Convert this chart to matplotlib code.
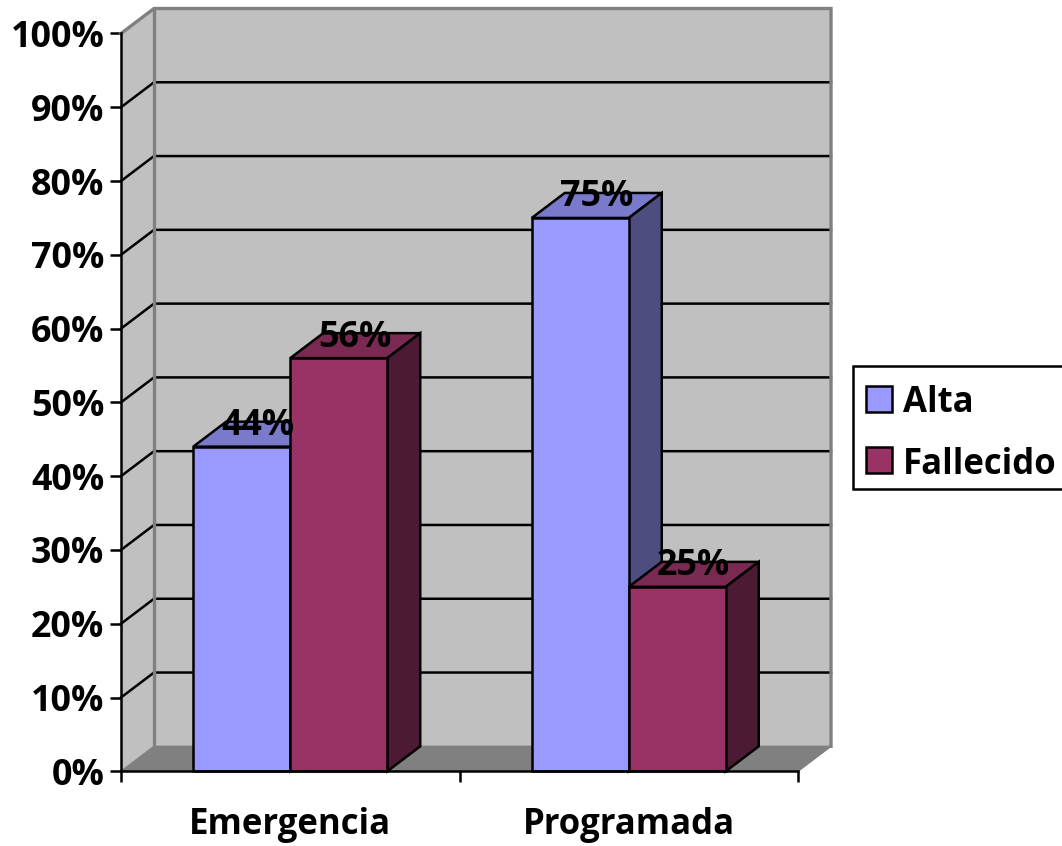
import matplotlib
matplotlib.use("Agg")
import matplotlib.pyplot as plt
from matplotlib.patches import Polygon, Rectangle

# Share of outcomes per admission type
categories = ["Emergencia", "Programada"]
series_names = ["Alta", "Fallecido"]
alta = [44, 75]
fallecido = [56, 25]
y_ticks = list(range(0, 101, 10))

face = ["#9999FF", "#993366"]
top = ["#7A7ACC", "#7A2952"]
side = ["#4D4D80", "#4D1A33"]

W, H = 1062, 846
plt.rcParams["font.family"] = ["Open Sans", "DejaVu Sans"]
plt.rcParams["font.weight"] = "bold"

fig = plt.figure(figsize=(W / 100, H / 100), dpi=100, facecolor="white")
ax = fig.add_axes([121 / W, (H - 771.3) / H, 677 / W, 737.8 / H])
ax.set_xlim(0, 2)
ax.set_ylim(0, 100)
ax.patch.set_alpha(0)

# Depth of the oblique projection, in data units
dx = 33 / 338.5
dy = 25 / 7.38
lw = 1.8
bar_w = 97 / 338.5
label_size = 25
number_size = 25.8

def poly(pts, fc, ec="none", z=1, elw=0):
    ax.add_patch(Polygon(pts, closed=True, facecolor=fc, edgecolor=ec, linewidth=elw,
                         zorder=z, clip_on=False, joinstyle="miter"))

# Walls and floor
poly([(dx, dy), (2 + dx, dy), (2 + dx, 100 + dy), (dx, 100 + dy)], "#C0C0C0", z=1)
poly([(0, 0), (dx, dy), (dx, 100 + dy), (0, 100)], "#C0C0C0", z=1)
poly([(0, 0), (dx, dy), (2 + dx, dy), (2, 0)], "#808080", z=1)

# Gridlines run across the side wall and the back wall
for v in y_ticks[1:-1]:
    ax.plot([0, dx, 2 + dx], [v, v + dy, v + dy], color="black", lw=lw, zorder=2, clip_on=False,
            solid_joinstyle="miter")

# Grey outline of the walls
ax.plot([0, dx, 2 + dx, 2 + dx], [100, 100 + dy, 100 + dy, dy], color="#808080", lw=2.4,
        zorder=2, clip_on=False, solid_joinstyle="miter")
ax.plot([dx, dx], [dy, 100 + dy], color="#808080", lw=2.4, zorder=2, clip_on=False)
ax.plot([0, dx, 2 + dx, 2], [0, dy, dy, 0], color="#808080", lw=1.0, zorder=2, clip_on=False)

# Bars, each with a front face, a top face and a side face
for c, centre in enumerate([0.5, 1.5]):
    for s, values in enumerate([alta, fallecido]):
        v = values[c]
        x0 = centre - bar_w + s * bar_w
        x1 = x0 + bar_w
        z = 3 + c * 2 + s * 0.5
        ax.bar(x0, v, width=bar_w, align="edge", color=face[s], edgecolor="black",
               linewidth=lw, zorder=z + 0.2, clip_on=False)
        poly([(x0, v), (x0 + dx, v + dy), (x1 + dx, v + dy), (x1, v)], top[s], "black", z, lw)
        poly([(x1, 0), (x1 + dx, dy), (x1 + dx, v + dy), (x1, v)], side[s], "black", z, lw)

# Value labels sit on the top face of each bar
for c, centre in enumerate([0.5, 1.5]):
    for s, values in enumerate([alta, fallecido]):
        v = values[c]
        xm = centre - bar_w / 2 + s * bar_w + dx / 2
        ax.text(xm, v + dy, f"{v}%", ha="center", va="center_baseline", fontsize=number_size,
                color="black", zorder=10, clip_on=False)

# Axes lines and ticks
for name in ("top", "right"):
    ax.spines[name].set_visible(False)
for name in ("left", "bottom"):
    ax.spines[name].set_linewidth(lw)
    ax.spines[name].set_zorder(9)
ax.set_yticks(y_ticks)
ax.set_yticklabels([f"{v}%" for v in y_ticks], fontsize=number_size)
ax.set_xticks([0, 1, 2])
ax.set_xticklabels([])
ax.set_xticks([0.5, 1.5], minor=True)
ax.set_xticklabels(categories, minor=True, fontsize=label_size)
ax.tick_params(axis="y", length=8, width=lw, pad=4)
ax.tick_params(axis="x", which="major", length=8, width=lw)
ax.tick_params(axis="x", which="minor", length=0, pad=26)

# Legend box, running off the right-hand edge of the figure
def to_fig(px, py):
    return px / W, (H - py) / H

fx, fy = to_fig(853, 489)
fig.add_artist(Rectangle((fx, fy), 215 / W, 123 / H, transform=fig.transFigure,
                         facecolor="white", edgecolor="black", linewidth=lw))
for i, name in enumerate(series_names):
    kx, ky = to_fig(866, 412 + 61 * i)
    fig.add_artist(Rectangle((kx, ky), 26 / W, 26 / H, transform=fig.transFigure,
                             facecolor=face[i], edgecolor="black", linewidth=lw))
    tx, ty = to_fig(903, 399 + 61 * i)
    fig.text(tx, ty, name, fontsize=label_size, ha="left", va="center_baseline", color="black")

fig.savefig("out.png", dpi=100)
